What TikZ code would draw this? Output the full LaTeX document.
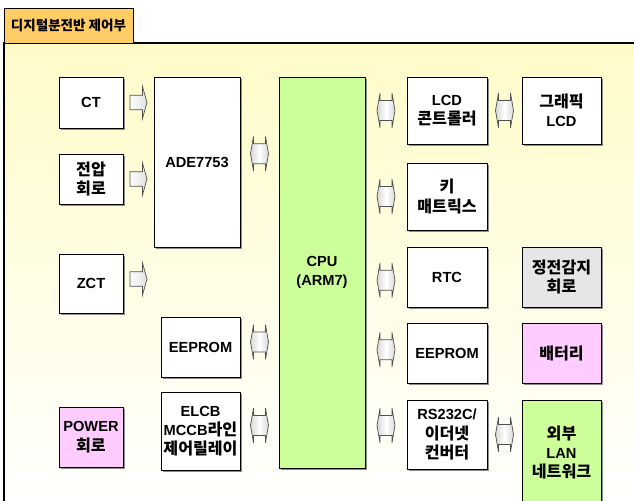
\documentclass[tikz,border=0pt]{standalone}
\usepackage{fontspec}
\setmainfont{Liberation Sans}
\newfontfamily\krfont{Noto Sans CJK KR}[Scale=1.1]
\usetikzlibrary{shadows, calc}
\definecolor{tabgold}{RGB}{255, 204, 102}
\definecolor{panelyellow}{RGB}{255, 251, 200}
\definecolor{boxpink}{RGB}{255, 204, 255}
\definecolor{boxgreen}{RGB}{204, 255, 153}
\definecolor{boxgray}{RGB}{230, 230, 230}
\definecolor{arrowgray}{RGB}{80, 80, 80}
\newcommand{\kor}[1]{{\krfont #1}}
\tikzset{
  arrowbody/.style={draw=arrowgray, line width=0.6pt, left color=gray!30, right color=gray!30, middle color=white},
  busarrow/.pic={
    \path[arrowbody] (-0.27,0) -- (-0.18,0.52) -- (-0.18,0.30) -- (0.18,0.30) -- (0.18,0.52) -- (0.27,0)
      -- (0.18,-0.52) -- (0.18,-0.30) -- (-0.18,-0.30) -- (-0.18,-0.52) -- cycle;
  },
  sigarrow/.pic={
    \path[arrowbody, left color=white, right color=gray!25] (-0.255,0.22) -- (0.12,0.22) -- (0.12,0.48) -- (0.255,0)
      -- (0.12,-0.48) -- (0.12,-0.22) -- (-0.255,-0.22) -- cycle;
  }
}

\begin{document}
\begin{tikzpicture}[
    blk/.style={rectangle, draw=black, line width=0.8pt, fill=white, font=\fontsize{12.5}{16.5}\selectfont\bfseries, align=center, inner sep=0pt, drop shadow={shadow xshift=0.07cm, shadow yshift=-0.07cm, fill=black!45, opacity=1}},
    pinkblk/.style={blk, fill=boxpink},
    greenblk/.style={blk, fill=boxgreen},
    grayblk/.style={blk, fill=boxgray},
    tabbox/.style={rectangle, draw=black, line width=0.8pt, fill=tabgold, font=\fontsize{10.5}{12}\selectfont\bfseries, minimum width=3.87cm, minimum height=1.05cm}
]
    \clip (0, 0) rectangle (19.02, 15);

    % Panel background
    \fill[top color=panelyellow, bottom color=white] (0.12, 13.71) rectangle (19.3, -0.3);
    \draw[line width=1pt] (19.3, 13.71) -- (0.12, 13.71) -- (0.12, -0.3);
    \node[tabbox] (title) at (2.055, 14.235) {\kor{디지털분전반 제어부}};

    % Inputs
    \node[blk, minimum width=1.92cm, minimum height=1.53cm] (ct) at (2.73, 11.925) {CT};
    \node[blk, minimum width=1.92cm, minimum height=1.50cm] (volt) at (2.73, 9.63) {\kor{전압}\\\kor{회로}};
    \node[blk, minimum width=1.92cm, minimum height=1.77cm] (zct) at (2.73, 6.495) {ZCT};
    \node[pinkblk, minimum width=1.92cm, minimum height=1.80cm] (power) at (2.73, 1.89) {POWER\\\kor{회로}};

    % Metering + left peripherals
    \node[blk, minimum width=2.58cm, minimum height=5.10cm] (ade) at (5.91, 10.14) {ADE7753};
    \node[blk, minimum width=2.37cm, minimum height=1.80cm] (eepl) at (6.015, 4.59) {EEPROM};
    \node[blk, minimum width=2.37cm, minimum height=2.34cm] (elcb) at (6.015, 2.07) {ELCB\\MCCB\kor{라인}\\\kor{제어릴레이}};

    % CPU
    \node[greenblk, minimum width=2.58cm, minimum height=11.73cm] (cpu) at (9.66, 6.825) {CPU\\(ARM7)};

    % Right peripherals
    \node[blk, minimum width=2.40cm, minimum height=2.01cm] (lcdc) at (13.41, 11.685) {LCD\\\kor{콘트롤러}};
    \node[blk, minimum width=2.40cm, minimum height=2.01cm] (keym) at (13.41, 9.105) {\kor{키}\\\kor{매트릭스}};
    \node[blk, minimum width=2.40cm, minimum height=1.80cm] (rtc) at (13.41, 6.69) {RTC};
    \node[blk, minimum width=2.40cm, minimum height=1.80cm] (eepr) at (13.41, 4.41) {EEPROM};
    \node[blk, minimum width=2.40cm, minimum height=2.07cm] (rs) at (13.41, 1.965) {RS232C/\\\kor{이더넷}\\\kor{컨버터}};

    \node[blk, minimum width=2.37cm, minimum height=2.01cm] (glcd) at (16.845, 11.685) {\kor{그래픽}\\LCD};
    \node[grayblk, minimum width=2.37cm, minimum height=1.80cm] (pfail) at (16.845, 6.69) {\kor{정전감지}\\\kor{회로}};
    \node[pinkblk, minimum width=2.37cm, minimum height=1.80cm] (bat) at (16.845, 4.41) {\kor{배터리}};
    \node[greenblk, minimum width=2.37cm, minimum height=3.15cm] (lan) at (16.845, 1.425) {\kor{외부}\\LAN\\\kor{네트워크}};

    % Signal arrows
    \pic at ($(ct.east)!.5!(ct.east -| ade.west)$) {sigarrow};
    \pic at ($(volt.east)!.5!(volt.east -| ade.west)$) {sigarrow};
    \pic[yshift=0.135cm] at ($(zct.east)!.5!(zct.east -| ade.west)$) {sigarrow};

    % Bus arrows
    \pic[yshift=0.25cm] at ($(ade.east)!.5!(ade.east -| cpu.west)$) {busarrow};
    \pic[yshift=0.15cm] at ($(eepl.east)!.5!(eepl.east -| cpu.west)$) {busarrow};
    \pic[yshift=0.165cm] at ($(elcb.east)!.5!(elcb.east -| cpu.west)$) {busarrow};

    \pic at ($(cpu.east |- lcdc.west)!.5!(lcdc.west)$) {busarrow};
    \pic at ($(cpu.east |- keym.west)!.5!(keym.west)$) {busarrow};
    \pic[yshift=-0.1cm] at ($(cpu.east |- rtc.west)!.5!(rtc.west)$) {busarrow};
    \pic[yshift=0.1cm] at ($(cpu.east |- eepr.west)!.5!(eepr.west)$) {busarrow};
    \pic[yshift=0.27cm] at ($(cpu.east |- rs.west)!.5!(rs.west)$) {busarrow};

    \pic at ($(lcdc.east)!.5!(glcd.west)$) {busarrow};
    \pic at ($(rs.east)!.5!(rs.east -| lan.west)$) {busarrow};
\end{tikzpicture}
\end{document}
